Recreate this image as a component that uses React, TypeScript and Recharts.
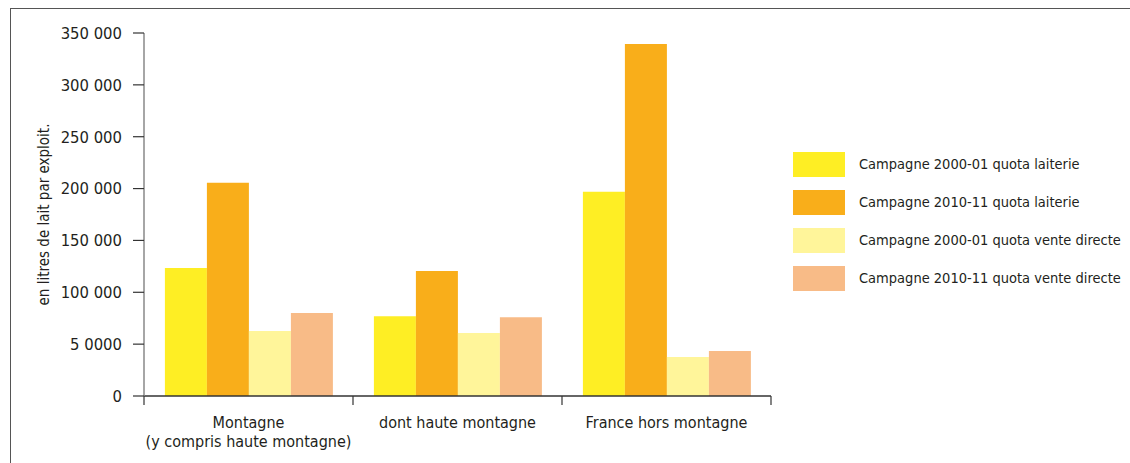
import { BarChart, Bar, XAxis, YAxis, Legend } from 'recharts'

const categories = ['Montagne\n(y compris haute montagne)', 'dont haute montagne', 'France hors montagne']
const laiterie2000 = [123500, 77000, 197000]
const laiterie2010 = [205500, 120500, 339500]
const vente2000 = [62700, 60700, 37600]
const vente2010 = [80000, 76000, 43400]

const yTicks = [0, 50000, 100000, 150000, 200000, 250000, 300000, 350000]
const yTickLabels = ['0', '5 0000', '100 000', '150 000', '200 000', '250 000', '300 000', '350 000']

const series = [
  { key: 'l2000', name: 'Campagne 2000-01 quota laiterie', color: '#FEEE24', values: laiterie2000 },
  { key: 'l2010', name: 'Campagne 2010-11 quota laiterie', color: '#F9AE1A', values: laiterie2010 },
  { key: 'v2000', name: 'Campagne 2000-01 quota vente directe', color: '#FFF59A', values: vente2000 },
  { key: 'v2010', name: 'Campagne 2010-11 quota vente directe', color: '#F8BB87', values: vente2010 },
]

const data = categories.map((cat, i) => {
  const row: Record<string, string | number> = { cat }
  series.forEach((s) => {
    row[s.key] = s.values[i]
  })
  return row
})

const FONT = '"DejaVu Sans Condensed", "DejaVu Sans", sans-serif'
const TEXT = '#231f20'
const textStyle = { fontStretch: 'condensed' as const }

function CategoryTick(props: any) {
  const { x, y, payload, index, visibleTicksCount } = props
  const half = payload?.offset ?? 104.5
  const lines = String(payload.value).split('\n')
  const axisY = y - 8
  return (
    <g>
      <line x1={x - half} x2={x - half} y1={axisY} y2={axisY + 9} stroke="#333" strokeWidth={1.2} />
      {index === visibleTicksCount - 1 && (
        <line x1={x + half} x2={x + half} y1={axisY} y2={axisY + 9} stroke="#333" strokeWidth={1.2} />
      )}
      <text x={x} y={axisY + 32} textAnchor="middle" fontSize={16} fontFamily={FONT} fill={TEXT} style={textStyle}>
        {lines.map((l, i) => (
          <tspan key={i} x={x} dy={i === 0 ? 0 : 19}>
            {l}
          </tspan>
        ))}
      </text>
    </g>
  )
}

function YLabel(props: any) {
  const { viewBox } = props
  const cx = viewBox.x + 10
  const cy = viewBox.y + viewBox.height / 2
  return (
    <text
      x={cx}
      y={cy}
      transform={`rotate(-90, ${cx}, ${cy})`}
      textAnchor="middle"
      dominantBaseline="central"
      fontSize={15}
      fontFamily={FONT}
      fill={TEXT}
      style={textStyle}
    >
      en litres de lait par exploit.
    </text>
  )
}

function LegendBox() {
  return (
    <div style={{ fontFamily: FONT, fontSize: 14.5, color: TEXT, fontStretch: 'condensed' }}>
      {series.map((s) => (
        <div key={s.key} style={{ display: 'flex', alignItems: 'center', height: 38 }}>
          <div style={{ width: 52, height: 25, background: s.color, marginRight: 14, flexShrink: 0 }} />
          <span style={{ whiteSpace: 'nowrap' }}>{s.name}</span>
        </div>
      ))}
    </div>
  )
}

export default function App() {
  return (
    <div style={{ position: 'absolute', left: 0, top: 0, width: 1130, height: 463, background: '#fff' }}>
      <div
        style={{
          position: 'absolute',
          left: 10,
          top: 8,
          right: 0,
          bottom: 0,
          borderTop: '1.5px solid #555',
          borderLeft: '1.5px solid #555',
        }}
      />
      <BarChart
        width={1130}
        height={463}
        data={data}
        margin={{ top: 33, right: 359, bottom: 7, left: 34 }}
        barCategoryGap="10%"
        barGap={0}
      >
        <XAxis
          dataKey="cat"
          height={60}
          axisLine={{ stroke: '#333', strokeWidth: 1.5 }}
          tickLine={false}
          interval={0}
          tick={<CategoryTick />}
        />
        <YAxis
          width={110}
          domain={[0, 350000]}
          ticks={yTicks}
          interval={0}
          tickFormatter={(v: number) => yTickLabels[yTicks.indexOf(v)] ?? String(v)}
          tickSize={11}
          tickMargin={11}
          axisLine={{ stroke: '#888', strokeWidth: 1.5 }}
          tickLine={{ stroke: '#333', strokeWidth: 1.2 }}
          tick={{ fontSize: 16.5, fontFamily: FONT, fill: TEXT, style: textStyle }}
          label={<YLabel />}
        />
        <Legend
          layout="vertical"
          align="center"
          verticalAlign="middle"
          content={<LegendBox />}
          wrapperStyle={{ position: 'absolute', left: 793, top: 145, width: 335 }}
        />
        {series.map((s) => (
          <Bar key={s.key} dataKey={s.key} name={s.name} fill={s.color} isAnimationActive={false} />
        ))}
      </BarChart>
    </div>
  )
}
